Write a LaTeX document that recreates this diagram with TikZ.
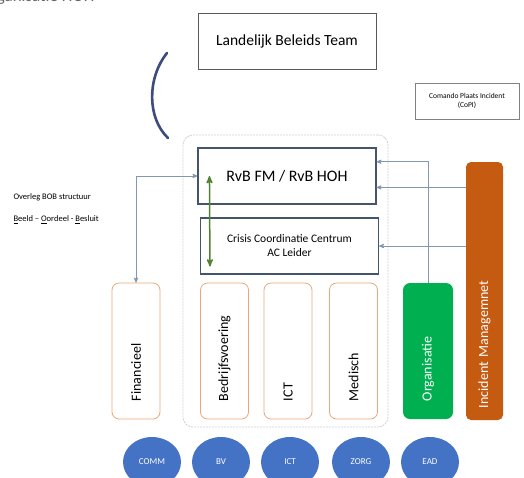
\documentclass[tikz,border=0pt]{standalone}
\usepackage{fontspec}
\setmainfont{Carlito}
\usetikzlibrary{arrows,calc,shapes.geometric,shadows}
\definecolor{slate}{HTML}{44546A}
\definecolor{linkblue}{HTML}{8497B0}
\definecolor{peach}{HTML}{E9A77A}
\definecolor{teamblue}{HTML}{4472C4}
\definecolor{orggreen}{HTML}{00B050}
\definecolor{incorange}{HTML}{C55A11}
\definecolor{olive}{HTML}{548235}
\definecolor{arcblue}{HTML}{3B4C7D}

\begin{document}
\begin{tikzpicture}[x=1pt,y=-1pt,>=stealth',
    box/.style={draw=slate,line width=1.1pt,minimum width=178pt,minimum height=56pt,align=center,inner sep=2pt},
    unit/.style={draw=peach,line width=0.8pt,rounded corners=7pt,rotate=90,minimum height=48pt,
                 minimum width=136pt,text width=100pt,inner xsep=18pt,align=left,font=\fontsize{14}{16}\selectfont},
    team/.style={ellipse,fill=teamblue,minimum width=58pt,minimum height=50pt,inner sep=0pt,
                 text=white,font=\fontsize{9}{10}\selectfont},
    link/.style={draw=linkblue,line width=0.8pt}]
    \useasboundingbox (0,0) rectangle (524,477);
    \clip (0,0) rectangle (524,477);

    \node[anchor=base east,text=black!60,font=\fontsize{17}{20}\selectfont] (title) at (98,1.8) {Crisisorganisatie HOH};

    \node[draw=black!65,line width=0.9pt,minimum width=178pt,minimum height=56pt,
          font=\fontsize{15.5}{18}\selectfont] (lbt) at (287,41) {Landelijk Beleids Team};
    \node[draw=black!50,line width=0.9pt,minimum width=104pt,minimum height=36pt,align=center,
          drop shadow={shadow xshift=1.2pt,shadow yshift=-1.2pt,opacity=0.25},fill=white,
          font=\fontsize{7.5}{9}\selectfont] (copi) at (467,101) {Comando Plaats Incident\\(CoPI)};

    \node[anchor=west,font=\fontsize{8.5}{10}\selectfont] (bob) at (10,197) {Overleg BOB structuur};
    \node[anchor=west,font=\fontsize{8.5}{10}\selectfont] (bob2) at (10,220)
          {\underline{B}eeld -- \underline{O}ordeel - \underline{B}esluit};

    \node[draw=black!18,line width=0.8pt,dash pattern=on 2pt off 1pt,rounded corners=10pt,
          minimum width=205pt,minimum height=292pt] (hoh) at (285.5,281) {};

    \node[box,font=\fontsize{16}{19}\selectfont] (rvb) at (287,176) {RvB FM / RvB HOH};
    \node[box,font=\fontsize{11.5}{14}\selectfont] (ccc) at (289.5,246) {Crisis Coordinatie Centrum\\AC Leider};

    \node[unit] (fin) at (136,351) {Financieel};
    \node[unit] (bedr) at (224.5,351) {Bedrijfsvoering};
    \node[unit] (ict) at (288,351) {ICT};
    \node[unit] (med) at (353.5,351) {Medisch};
    \node[unit,draw=none,fill=orggreen,minimum height=50pt,text=white] (org) at (428,351) {Organisatie};
    \node[unit,draw=none,fill=incorange,rounded corners=5pt,minimum height=37pt,minimum width=258pt,
          text width=234pt,inner xsep=12pt,text=white] (inc) at (484.5,291) {Incident Managemnet};

    \node[team] (comm) at (152,462) {COMM};
    \node[team] (bv) at (221,462) {BV};
    \node[team] (ict2) at (290,462) {ICT};
    \node[team] (zorg) at (361,462) {ZORG};
    \node[team] (ead) at (430,462) {EAD};

    \coordinate (r1) at ($(rvb.north east)!.25!(rvb.south east)$);
    \coordinate (r2) at ($(rvb.north east)!.7!(rvb.south east)$);

    \draw[link,<->] (fin.east) |- (rvb.west);
    \draw[link,->] (org.east) |- (r1);
    \draw[link,->] (inc.north |- r2) -- (r2);
    \draw[link,->] (inc.north |- ccc.east) -- (ccc.east);
    \draw[olive,line width=1.5pt,<->] ([xshift=12pt]rvb.west) -- ([xshift=10pt,yshift=8pt]ccc.south west);

    \draw[arcblue,line width=2.6pt,line cap=round] (167,53) .. controls (147,78) and (147,118) .. (168,138);
\end{tikzpicture}
\end{document}
